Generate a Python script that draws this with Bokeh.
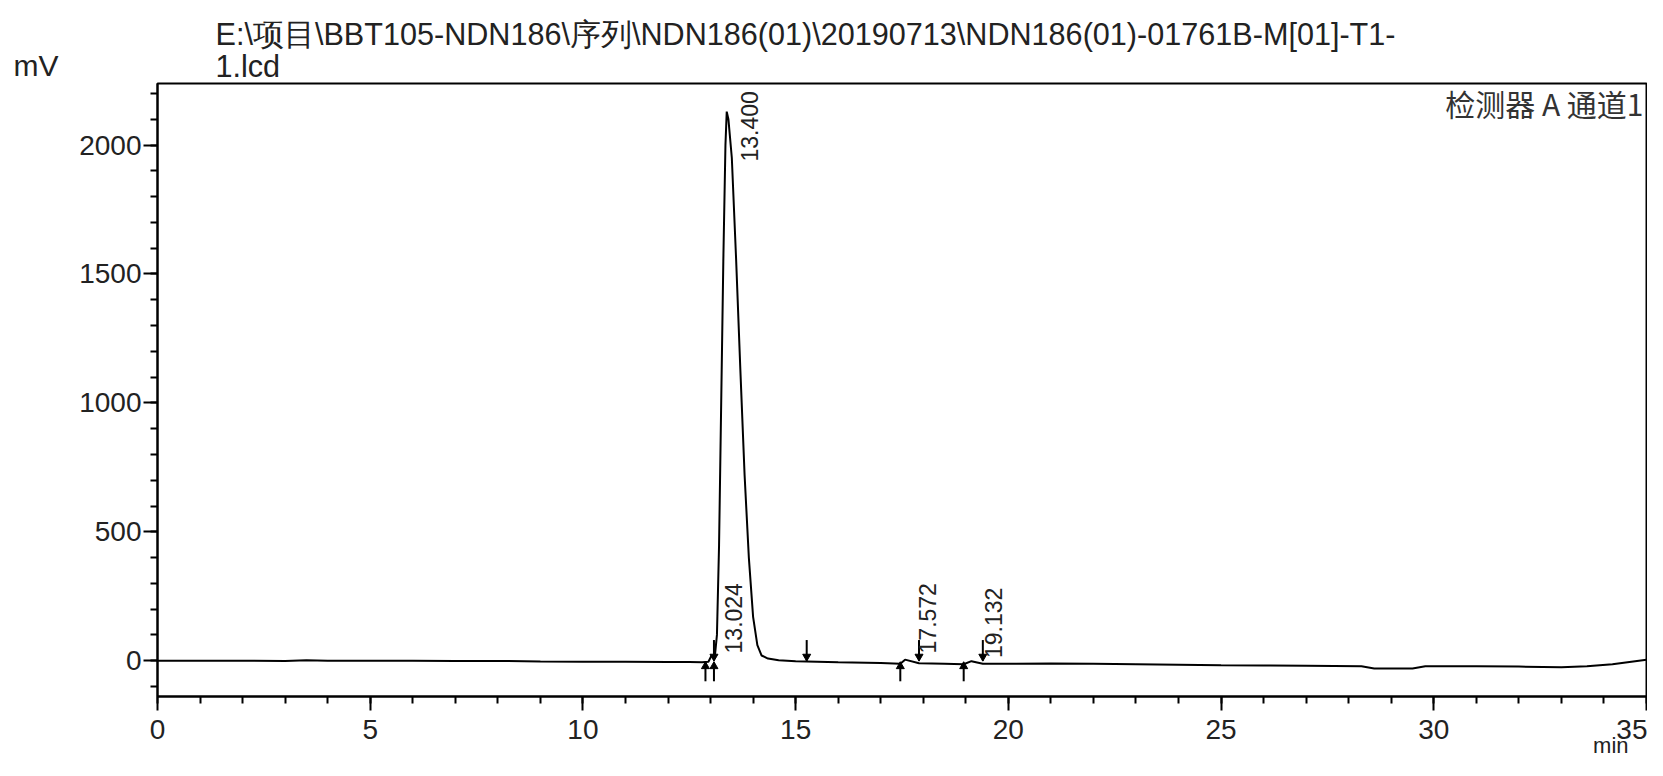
from bokeh.plotting import figure
from bokeh.models import Range1d, FixedTicker, ColumnDataSource, LinearAxis
from bokeh.core.properties import value
from bokeh.embed import file_html
from bokeh.resources import INLINE

# ---- data ----
time_min = [0.0, 1.0, 2.0, 3.0, 3.5, 4.0, 5.0, 6.0, 7.0, 8.0, 9.0, 10.0, 11.0, 12.0, 12.5,
            12.8, 12.95, 13.024, 13.08, 13.10, 13.15, 13.20, 13.25, 13.30, 13.35, 13.38,
            13.42, 13.50, 13.60, 13.70, 13.80, 13.90, 14.00, 14.10, 14.20, 14.35, 14.60,
            15.0, 15.26, 16.0, 17.0, 17.46, 17.572, 17.90, 18.5, 18.95, 19.132, 19.40,
            20.0, 21.0, 22.0, 23.0, 24.0, 25.0, 26.0, 27.0, 28.3, 28.6, 29.5, 29.8,
            31.0, 32.0, 33.0, 33.6, 34.2, 35.0]
signal_mv = [0, 0, 0, -1, 2, 0, 0, 0, -1, -1, -3, -4, -4, -5, -5,
             -6, -4, 20, 12, 15, 100, 450, 1000, 1550, 2000, 2130,
             2100, 1950, 1560, 1130, 720, 400, 170, 60, 20, 8, 2,
             -2, -3, -6, -9, -12, 4, -10, -12, -14, -2, -12,
             -12, -11, -12, -14, -16, -18, -19, -20, -22, -30, -30, -22,
             -22, -23, -26, -22, -14, 4]

peak_rt = [13.024, 13.400, 17.572, 19.132]
peak_height = [20, 2130, 4, -2]
peak_text = ["13.024", "13.400", "17.572", "19.132"]

start_marks = [12.88, 13.08, 17.46, 18.95]
end_marks = [13.08, 15.26, 17.90, 19.40]

x_ticks = [0, 5, 10, 15, 20, 25, 30, 35]
y_ticks = [0, 500, 1000, 1500, 2000]
x_lim = (0, 35)
y_lim = (-139, 2239)

title_line1 = "E:\\项目\\BBT105-NDN186\\序列\\NDN186(01)\\20190713\\NDN186(01)-01761B-M[01]-T1-"
title_line2 = "1.lcd"
detector_text = "检测器 A 通道1"
x_unit = "min"
y_unit = "mV"

FONT = "Liberation Sans"
TXT = "#222222"

# canvas size and the drawn box (pixels inside the canvas)
W, H = 1647, 758
BL, BR, BT, BB = 157, 1646, 83, 696
kx = (BR - BL) / (x_lim[1] - x_lim[0])
ky = (BB - BT) / (y_lim[1] - y_lim[0])
x0 = x_lim[0] - BL / kx
x1 = x_lim[1] + (W - BR) / kx
y1 = y_lim[1] + BT / ky
y0 = y_lim[0] - (H - BB) / ky


def dx(px):
    return x0 + px / kx


def dy(py):
    return y1 - py / ky


p = figure(width=W, height=H, x_range=Range1d(x0, x1), y_range=Range1d(y0, y1),
           output_backend="svg", toolbar_location=None,
           x_axis_location=None, y_axis_location=None,
           min_border=0, min_border_left=0, min_border_right=0, min_border_top=0, min_border_bottom=0)
p.grid.visible = False
p.outline_line_color = None
p.background_fill_color = "white"
p.border_fill_color = "white"

xaxis = LinearAxis(fixed_location=y_lim[0], bounds=x_lim,
                   ticker=FixedTicker(ticks=x_ticks, minor_ticks=list(range(0, 36))))
yaxis = LinearAxis(fixed_location=x_lim[0], bounds=y_lim,
                   ticker=FixedTicker(ticks=y_ticks, minor_ticks=list(range(-100, 2300, 100))))
for ax in (xaxis, yaxis):
    ax.axis_line_color = "black"
    ax.axis_line_width = 2
    ax.major_tick_line_color = "black"
    ax.major_tick_line_width = 2
    ax.minor_tick_line_color = "black"
    ax.minor_tick_line_width = 2
    ax.major_tick_in = 0
    ax.minor_tick_in = 0
    ax.major_tick_out = 14
    ax.minor_tick_out = 7
    ax.major_label_text_font = FONT
    ax.major_label_text_font_size = "28px"
    ax.major_label_text_color = TXT
xaxis.major_label_standoff = 9
yaxis.major_label_standoff = 2
p.add_layout(xaxis, "below")
p.add_layout(yaxis, "left")

# drawn plot box
p.quad(left=[x_lim[0]], right=[x_lim[1]], bottom=[y_lim[0]], top=[y_lim[1]],
       fill_color=None, line_color="black", line_width=2)

# signal
p.line(time_min, signal_mv, line_color="black", line_width=2)

# integration marks (start: arrow up from below, end: arrow down from above)
mark_len = 80
p.segment(x0=start_marks, y0=[-mark_len] * len(start_marks), x1=start_marks, y1=[-8] * len(start_marks),
          line_color="black", line_width=2)
p.scatter(x=start_marks, y=[-22] * len(start_marks), marker="triangle", size=8,
          fill_color="black", line_color="black")
p.segment(x0=end_marks, y0=[mark_len] * len(end_marks), x1=end_marks, y1=[0] * len(end_marks),
          line_color="black", line_width=2)
p.scatter(x=end_marks, y=[16] * len(end_marks), marker="inverted_triangle", size=8,
          fill_color="black", line_color="black")

# peak labels (rotated, to the right of each peak)
lbl_y = [h if h > 1000 else (28 if h >= 0 else 10) for h in peak_height]
lbl_yoff = [50 if h > 1000 else 0 for h in peak_height]
src = ColumnDataSource(dict(x=peak_rt, y=lbl_y, t=peak_text, yo=lbl_yoff))
p.text(x="x", y="y", text="t", source=src, angle=1.5708, x_offset=22, y_offset="yo",
       text_align="left", text_baseline="middle", text_font=value(FONT),
       text_font_size="23px", text_color=TXT)


def canvas_text(px, py, text, align, size, font=FONT, color=TXT):
    p.text(x=[dx(px)], y=[dy(py)], text=[text], text_align=align, text_baseline="middle",
           text_font=value(font), text_font_size=size, text_color=color)


canvas_text(13, 65, y_unit, "left", "30px")
canvas_text(215, 33, title_line1, "left", "30.6px")
canvas_text(215, 65, title_line2, "left", "30.6px")
canvas_text(BR - 18, 745, x_unit, "right", "22px")
canvas_text(BR - 3, 102, detector_text, "right", "30px", font="Noto Sans CJK SC", color="#333333")

open("out.html", "w").write(file_html(p, INLINE))
